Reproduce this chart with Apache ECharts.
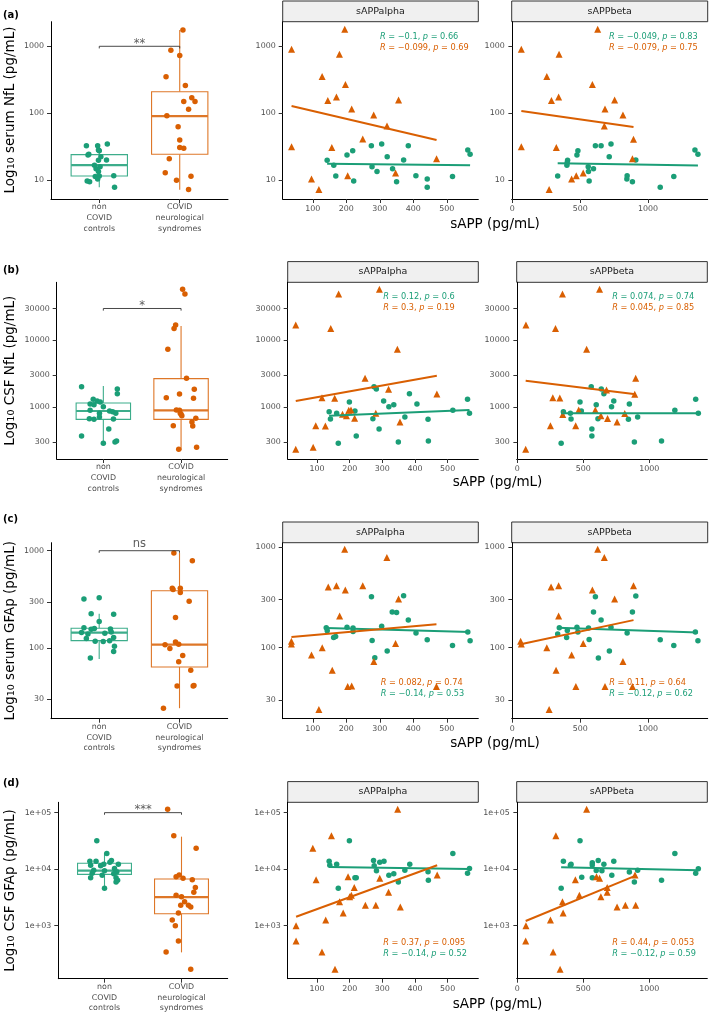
<!DOCTYPE html>
<html><head><meta charset="utf-8">
<script src="https://cdn.jsdelivr.net/npm/echarts@6/dist/echarts.min.js"></script>
<style>html,body{margin:0;padding:0;background:#fff}#c{width:709px;height:1013px}</style>
</head><body><div id="c"></div><script>
// ---------------- data ----------------
const GROUP_LABELS = ['non\nCOVID\ncontrols', 'COVID\nneurological\nsyndromes'];
const FACETS = ['sAPPalpha', 'sAPPbeta'];
const PANEL_TAGS = ['(a)', '(b)', '(c)', '(d)'];
const Y_TITLES = ['serum NfL', 'CSF NfL', 'serum GFAp', 'CSF GFAp'];
const X_TITLE = 'sAPP (pg/mL)';
const SIG_TEXT = ['**', '*', 'ns', '***'];
const SIG_Y = [1000, 30000, 1000, 100000];

const Y_TICKS_A = [10, 100, 1000];
const Y_LABELS_A = ['10', '100', '1000'];
const Y_TICKS_B = [300, 1000, 3000, 10000, 30000];
const Y_LABELS_B = ['300', '1000', '3000', '10000', '30000'];
const Y_TICKS_C = [30, 100, 300, 1000];
const Y_LABELS_C = ['30', '100', '300', '1000'];
const Y_TICKS_D = [1000, 10000, 100000];
const Y_LABELS_D = ['1e+03', '1e+04', '1e+05'];
const X_TICKS_ALPHA = [100, 200, 300, 400, 500];
const X_TICKS_BETA = [0, 500, 1000];

// box stats [min, Q1, median, Q3, max] per group
const BOX_A = [[7.9, 11.6, 16.8, 24.2, 34.8], [7.2, 24.5, 91, 210, 1750]];
const BOX_B = [[292, 653, 871, 1148, 2065], [224, 653, 891, 2660, 16400]];
const BOX_C = [[77.8, 120, 145, 161, 226], [24.4, 64.4, 109, 389, 949]];
const BOX_D = [[4570, 8100, 9400, 12700, 19600], [337, 1630, 3210, 6700, 37600]];

// jittered box points [x position, value]
const JIT_G_A = [[1.10,34.8],[0.84,32.9],[0.98,32.9],[0.99,28.4],[1.00,27.7],[0.87,24.5],[0.86,23.9],[1.02,22.5],[1.09,20.1],[0.99,19.9],[0.94,16.8],[1.01,16],[0.96,14.9],[0.99,13.5],[1.18,11.7],[1.00,11.6],[0.95,11.4],[0.98,10.5],[0.85,9.8],[0.88,9.55],[1.19,7.9]];
const JIT_O_A = [[2.04,1750],[1.89,870],[2.0,730],[1.83,350],[2.07,260],[2.15,170],[2.05,150],[2.19,150],[2.11,115],[1.84,92],[1.98,63],[2.0,40],[2.0,31],[2.05,30],[1.87,21],[1.82,13],[2.14,11.5],[1.96,10],[2.11,7.3]];
const JIT_G_B = [[0.72,2018],[1.18,1862],[1.18,1585],[0.87,1303],[0.92,1230],[0.96,1189],[0.83,1109],[0.88,1084],[1.0,1012],[0.83,891],[1.08,871],[1.12,851],[1.16,803],[0.95,803],[0.95,708],[0.82,668],[1.13,661],[0.88,653],[1.07,468],[0.72,367],[1.0,285],[1.15,299],[1.17,309]];
const JIT_O_B = [[2.02,58200],[2.05,49500],[1.93,17000],[1.91,15100],[1.83,7330],[2.07,2690],[2.17,1840],[1.98,1570],[1.81,1380],[2.16,1350],[1.94,900],[1.98,890],[2.0,776],[2.01,740],[2.19,676],[1.99,803],[2.14,596],[1.90,525],[2.15,520],[1.97,232],[2.20,248]];
const JIT_G_C = [[0.81,321],[1.0,329],[0.90,226],[1.18,224],[1.0,188],[0.81,163],[0.94,160],[1.14,158],[0.9,157],[0.86,140],[1.07,143],[1.15,147],[0.78,145],[1.18,129],[0.84,126],[1.13,120],[0.95,118],[1.05,117.5],[1.19,105],[1.18,92.7],[0.89,79.6]];
const JIT_O_C = [[1.93,949],[2.16,789],[1.91,413],[2.01,413],[1.92,401],[2.01,374],[2.12,304],[1.95,207],[1.82,109],[1.95,116],[1.99,110],[1.88,100],[2.04,84.6],[1.99,73],[2.14,59.6],[1.97,41.3],[2.17,41.3],[2.18,41.6],[1.80,24.4]];
const JIT_G_D = [[0.90,31900],[1.03,19000],[1.09,14300],[0.81,13800],[0.89,13800],[1.07,13200],[0.99,12200],[1.18,12200],[0.82,11700],[0.95,11500],[1.13,10300],[0.86,9530],[1.0,9400],[1.16,9040],[0.84,8440],[1.12,8300],[0.97,7780],[0.82,7080],[1.15,7080],[1.17,6340],[1.15,5930],[1.0,4580]];
const JIT_O_D = [[1.82,114600],[1.90,39200],[2.19,23400],[1.93,7360],[1.97,7890],[2.02,6890],[2.14,6520],[2.18,4760],[2.16,3890],[1.93,3470],[2.0,3260],[2.04,2660],[1.99,2290],[2.09,2290],[2.12,2140],[1.96,1680],[1.88,1260],[1.92,1000],[1.96,536],[1.80,342],[2.12,169]];

// scatter [sAPP, value]
const ALPHA_G_A = [[142.7,19.9],[162.5,16.8],[168.5,11.6],[202,23.9],[219,27.7],[222,9.8],[274.7,32.9],[276.7,16],[291.6,13.5],[305.5,34.8],[322,22.5],[338,14.9],[350,9.55],[371,20.1],[385,32.9],[407.7,11.7],[441.5,10.5],[441.5,7.9],[517,11.4],[562.6,28.4],[569.5,24.5]];
const ALPHA_O_A = [[36.4,903],[195.3,1795],[179.4,760],[127.8,353],[197.3,268],[170.5,175],[144.7,155],[356,158],[216,116],[281.7,94.4],[321.4,64.7],[249,41.4],[36.4,31.8],[156.6,30.8],[469.4,21],[347,12.8],[204,11.7],[96,10.5],[118,7.3]];
const BETA_G_A = [[407,19.9],[402,16.8],[334,11.6],[476,23.9],[483,27.7],[566,9.8],[612,32.9],[559,16],[561,13.5],[727,34.8],[714,22.5],[598,14.9],[885,9.55],[910,20.1],[654,32.9],[846,11.7],[844,10.5],[1090,7.9],[1190,11.4],[1346,28.4],[1368,24.5],[404,18.3]];
const BETA_O_A = [[629,1795],[66,903],[344,760],[254,353],[590,268],[341,175],[288,155],[754,158],[683,116],[815,94],[678,64.7],[893,41],[66,31.8],[324,30.8],[885,21],[522,12.8],[471,11.7],[437,10.5],[271,7.3]];

const ALPHA_G_B = [[137,851],[141,661],[160,803],[165,285],[199,1189],[216,871],[220,367],[271,668],[274.5,2018],[281.6,1862],[290,468],[304,1230],[320,1012],[335,1084],[349,299],[369,708],[383,1585],[406,1109],[440,653],[441,309],[516,891],[561,1303],[567,803]];
const ALPHA_O_B = [[34.7,17000],[166,49500],[291,58200],[142,15100],[346,7330],[247,2690],[319,1840],[467,1570],[115,1380],[154,1350],[197,890],[204,900],[178,776],[190,740],[215,676],[280,803],[96,525],[125.5,520],[354,596],[34.7,232],[88,248]];
const BETA_G_B = [[349,851],[407,661],[402,803],[332,285],[475,1189],[485,871],[565,367],[611,668],[560,2018],[636,1862],[565,468],[731,1230],[714,1012],[598,1084],[887,299],[912,708],[656,1585],[849,1109],[842,653],[1093,309],[1194,891],[1352,1303],[1372,803]];
const BETA_O_B = [[65,17000],[342,49500],[623,58200],[289,15100],[525,7330],[897,2690],[676,1800],[890,1550],[269,1380],[322,1360],[591,900],[633,740],[344,770],[684,670],[814,800],[251,525],[442,525],[756,596],[63,232],[465,900]];

const ALPHA_G_C = [[140,158],[143,147],[162,126],[168,129],[202,160],[220,157],[220,145],[275,321],[277,118],[285,79.6],[305.5,163],[322,92.7],[337,226],[350,224],[371,329],[385,188],[408,140],[441.5,120],[517,105],[562.6,143],[569.5,117.5]];
const ALPHA_O_C = [[195,949],[321,789],[146,401],[170.5,413],[197,374],[249,413],[356,304],[180,207],[36,116],[36,109],[128,100],[96,84.6],[347,110],[282,73],[158,59.6],[204,41.3],[216,41.6],[469,41.3],[118,24.4]];
const BETA_G_C = [[346,158],[334,137],[405,148],[400,126],[476,160],[483,143],[612,321],[566,121],[634,79],[727,160],[715,93],[598,226],[654,188],[910,326],[885,226],[561,157],[846,140],[1090,120],[1190,105],[1349,143],[1368,117]];
const BETA_O_C = [[629,949],[678,789],[285,401],[341,413],[590,374],[893,413],[754,304],[341,207],[61,116],[66,109],[254,100],[437,84.6],[522,110],[815,73],[322,59.6],[468,41.3],[683,41.3],[885,41.3],[271,24.4]];

const ALPHA_G_D = [[137,13800],[139,11700],[160,12200],[165,4580],[199,31900],[216,7080],[220,7080],[273,14300],[275,11500],[282,9400],[292,13200],[305,13800],[320,7780],[335,8300],[349,5930],[369,9530],[384,12200],[440,9040],[441,6340],[516,19000],[561,8440],[567,10300]];
const ALPHA_O_D = [[347,114600],[144,39200],[87,23400],[97,6520],[195,7360],[214,4760],[292,6890],[319,3890],[468,7890],[169,2660],[200,3260],[205,3470],[248,2290],[280,2290],[355,2140],[180,1680],[126.5,1260],[35.7,1000],[35.7,536],[115,342],[155,169]];
const BETA_G_D = [[349,13800],[407,12200],[402,11700],[332,4580],[475,31900],[488,7200],[568,13000],[568,11800],[613,14300],[656,12200],[598,9500],[641,9400],[731,13800],[716,7800],[568,7080],[849,8900],[887,5930],[912,9530],[1093,6340],[1194,19000],[1352,8440],[1372,10200]];
const BETA_O_D = [[525,114600],[292,39200],[440,6520],[600,7360],[623,6890],[681,4760],[892,7890],[681,3890],[470,3470],[633,3260],[342,2660],[756,2140],[819,2290],[897,2290],[347,1680],[251,1260],[65,1000],[63,536],[271,342],[324,169]];

// fitted regression line end points [sAPP, value]
const FIT_ALPHA_G = [[[142.7,17.7],[569.5,16.8]], [[137,741],[567,902]], [[140,157],[569.5,143]], [[137,10900],[567,10070]]];
const FIT_ALPHA_O = [[[36.4,128.6],[469.4,40]], [[34.7,1230],[467,2950]], [[36,128],[469,171]], [[35.7,1440],[468,11700]]];
const FIT_BETA_G = [[[334,17.9],[1368,16.6]], [[332,803],[1372,803]], [[334,158],[1368,142]], [[332,10770],[1372,9530]]];
const FIT_BETA_O = [[[66,108],[893,62.5]], [[63,2483],[897,1549]], [[61,108],[893,188]], [[63,1210],[897,7670]]];

// correlation labels [group, text]
const R_ALPHA = [
  [['g','{i|R} = −0.1, {i|p} = 0.66'], ['o','{i|R} = −0.099, {i|p} = 0.69']],
  [['g','{i|R} = 0.12, {i|p} = 0.6'], ['o','{i|R} = 0.3, {i|p} = 0.19']],
  [['o','{i|R} = 0.082, {i|p} = 0.74'], ['g','{i|R} = −0.14, {i|p} = 0.53']],
  [['o','{i|R} = 0.37, {i|p} = 0.095'], ['g','{i|R} = −0.14, {i|p} = 0.52']]
];
const R_BETA = [
  [['g','{i|R} = −0.049, {i|p} = 0.83'], ['o','{i|R} = −0.079, {i|p} = 0.75']],
  [['g','{i|R} = 0.074, {i|p} = 0.74'], ['o','{i|R} = 0.045, {i|p} = 0.85']],
  [['o','{i|R} = 0.11, {i|p} = 0.64'], ['g','{i|R} = −0.12, {i|p} = 0.62']],
  [['o','{i|R} = 0.44, {i|p} = 0.053'], ['g','{i|R} = −0.12, {i|p} = 0.59']]
];

// ---------------- layout / style ----------------
const GREEN = '#1B9E77', ORANGE = '#D95F02';
const BOX_GREEN = '#3DAD8B', BOX_ORANGE = '#DE7728';
const FONT = 'DejaVu Sans';
const LAYOUT = [
  {box:[51,21.7,177,177.3], alpha:[282.7,21.7,195.6,177.3], beta:[511.7,21.7,196,177.3], boxY:[0.721,3.367], scY:[0.721,3.367], tagY:15, titleY:110, sappX:495, sappY:224, rAX:380, rBX:609, rY:[36.7,47.7], sigDist:-4},
  {box:[56.7,282.3,171,176.7], alpha:[287.7,282.3,190.6,176.7], beta:[516.7,282.3,190.6,176.7], boxY:[2.22,4.87], scY:[2.22,4.87], tagY:270, titleY:370.7, sappX:497.5, sappY:482.5, rAX:383.3, rBX:612.3, rY:[296.7,307.7], sigDist:-4},
  {box:[51,542.7,176.7,176], alpha:[282.7,542.7,195.6,176], beta:[511.7,542.7,196,176], boxY:[1.28,3.082], scY:[1.295,3.043], tagY:519, titleY:630.7, sappX:495, sappY:743, rAX:380.7, rBX:609.3, rY:[683.3,694.3], sigDist:0},
  {box:[58.3,802.3,169.4,176.4], alpha:[287.7,802.3,190.6,176.4], beta:[516.7,802.3,190.6,176.4], boxY:[2.062,5.183], scY:[2.062,5.183], tagY:783, titleY:890.5, sappX:497.5, sappY:1004, rAX:383.3, rBX:612.3, rY:[943.3,954.3], sigDist:-4}
];
const ROWS = [
  {box:BOX_A, jg:JIT_G_A, jo:JIT_O_A, ag:ALPHA_G_A, ao:ALPHA_O_A, bg:BETA_G_A, bo:BETA_O_A, yt:Y_TICKS_A, yl:Y_LABELS_A},
  {box:BOX_B, jg:JIT_G_B, jo:JIT_O_B, ag:ALPHA_G_B, ao:ALPHA_O_B, bg:BETA_G_B, bo:BETA_O_B, yt:Y_TICKS_B, yl:Y_LABELS_B},
  {box:BOX_C, jg:JIT_G_C, jo:JIT_O_C, ag:ALPHA_G_C, ao:ALPHA_O_C, bg:BETA_G_C, bo:BETA_O_C, yt:Y_TICKS_C, yl:Y_LABELS_C},
  {box:BOX_D, jg:JIT_G_D, jo:JIT_O_D, ag:ALPHA_G_D, ao:ALPHA_O_D, bg:BETA_G_D, bo:BETA_O_D, yt:Y_TICKS_D, yl:Y_LABELS_D}
];
const X_RANGE = {box:[0.4, 2.6], alpha:[10, 594], beta:[-5, 1440]};
const BOX_HALF = 0.35;

const lg = v => Math.log10(v);
const toLog = arr => arr.map(p => [p[0], lg(p[1])]);
const yFmt = (ticks, labels) => v => {
  const i = ticks.findIndex(t => Math.abs(lg(t) - v) < 1e-6);
  return i < 0 ? '' : labels[i];
};

function renderBox(params, api) {
  const x = api.value(0);
  const c = api.visual('color');
  const pMin = api.coord([x, api.value(1)]);
  const pQ1 = api.coord([x - BOX_HALF, api.value(2)]);
  const pMedL = api.coord([x - BOX_HALF, api.value(3)]);
  const pMedR = api.coord([x + BOX_HALF, api.value(3)]);
  const pQ3 = api.coord([x + BOX_HALF, api.value(4)]);
  const pMax = api.coord([x, api.value(5)]);
  const cx = pMin[0];
  const ls = {stroke: c, lineWidth: 1.1, fill: null};
  return {type: 'group', children: [
    {type: 'line', shape: {x1: cx, y1: pMin[1], x2: cx, y2: pQ1[1]}, style: ls},
    {type: 'line', shape: {x1: cx, y1: pQ3[1], x2: cx, y2: pMax[1]}, style: ls},
    {type: 'rect', shape: {x: pQ1[0], y: pQ3[1], width: pQ3[0] - pQ1[0], height: pQ1[1] - pQ3[1]}, style: {fill: '#fff', stroke: c, lineWidth: 1.1}},
    {type: 'line', shape: {x1: pMedL[0], y1: pMedL[1], x2: pMedR[0], y2: pMedR[1]}, style: {stroke: c, lineWidth: 2.2}}
  ]};
}

const grids = [], xAxes = [], yAxes = [], series = [], graphics = [];
const axisLineStyle = {show: true, lineStyle: {color: '#000', width: 1}};
const tickStyle = {color: '#333', width: 1};
const ptStyle = c => ({color: c, opacity: 1});

LAYOUT.forEach((L, r) => {
  const D = ROWS[r];
  const panels = [['box', L.box, L.boxY], ['alpha', L.alpha, L.scY], ['beta', L.beta, L.scY]];
  panels.forEach(([kind, g, yr], k) => {
    const gi = r * 3 + k;
    grids.push({left: g[0], top: g[1], width: g[2], height: g[3], containLabel: false, outerBoundsMode: 'none'});
    const xr = X_RANGE[kind];
    const xt = kind === 'box' ? [1, 2] : (kind === 'alpha' ? X_TICKS_ALPHA : X_TICKS_BETA);
    xAxes.push({
      gridIndex: gi, type: 'value', min: xr[0], max: xr[1],
      axisLine: axisLineStyle, splitLine: {show: false},
      axisTick: {show: true, length: 4, lineStyle: tickStyle, customValues: xt},
      axisLabel: {
        customValues: xt, color: '#4D4D4D', fontSize: 7.9, fontFamily: FONT,
        margin: kind === 'box' ? 3 : 5, lineHeight: 10.7,
        formatter: kind === 'box' ? (v => GROUP_LABELS[Math.round(v) - 1]) : (v => String(v))
      }
    });
    const ytl = D.yt.map(lg);
    yAxes.push({
      gridIndex: gi, type: 'value', min: yr[0], max: yr[1],
      axisLine: axisLineStyle, splitLine: {show: false},
      axisTick: {show: true, length: 4, lineStyle: tickStyle, customValues: ytl},
      axisLabel: {customValues: ytl, color: '#4D4D4D', fontSize: 7.9, fontFamily: FONT, margin: 7, formatter: yFmt(D.yt, D.yl)}
    });
  });

  // ----- box panel -----
  const bi = r * 3;
  series.push({
    type: 'custom', xAxisIndex: bi, yAxisIndex: bi, renderItem: renderBox, silent: true,
    encode: {x: 0, y: [1, 2, 3, 4, 5]},
    data: [
      {value: [1].concat(D.box[0].map(lg)), itemStyle: {color: BOX_GREEN}},
      {value: [2].concat(D.box[1].map(lg)), itemStyle: {color: BOX_ORANGE}}
    ]
  });
  const sy = lg(SIG_Y[r]);
  const tip = 0.012 * (L.boxY[1] - L.boxY[0]);
  series.push({
    type: 'line', xAxisIndex: bi, yAxisIndex: bi, silent: true, symbol: 'none',
    lineStyle: {color: '#333', width: 0.9},
    data: [[1, sy - tip], [1, sy], [2, sy], [2, sy - tip]]
  });
  series.push({
    type: 'scatter', xAxisIndex: bi, yAxisIndex: bi, silent: true, symbolSize: 1,
    itemStyle: {color: 'rgba(0,0,0,0)'},
    label: {show: true, position: 'top', distance: L.sigDist, formatter: SIG_TEXT[r], color: '#333', fontSize: 11.5, fontFamily: FONT},
    data: [[1.5, sy]]
  });
  series.push({type: 'scatter', xAxisIndex: bi, yAxisIndex: bi, silent: true, symbol: 'circle', symbolSize: 5.5, itemStyle: ptStyle(GREEN), data: toLog(D.jg)});
  series.push({type: 'scatter', xAxisIndex: bi, yAxisIndex: bi, silent: true, symbol: 'circle', symbolSize: 5.5, itemStyle: ptStyle(ORANGE), data: toLog(D.jo)});

  // ----- scatter panels -----
  [[D.ag, D.ao, FIT_ALPHA_G[r], FIT_ALPHA_O[r]], [D.bg, D.bo, FIT_BETA_G[r], FIT_BETA_O[r]]].forEach((P, k) => {
    const gi = r * 3 + 1 + k;
    series.push({type: 'scatter', xAxisIndex: gi, yAxisIndex: gi, silent: true, symbol: 'circle', symbolSize: 5.5, itemStyle: ptStyle(GREEN), data: toLog(P[0])});
    series.push({type: 'scatter', xAxisIndex: gi, yAxisIndex: gi, silent: true, symbol: 'triangle', symbolSize: 7, itemStyle: ptStyle(ORANGE), data: toLog(P[1])});
    series.push({type: 'line', xAxisIndex: gi, yAxisIndex: gi, silent: true, symbol: 'none', lineStyle: {color: GREEN, width: 2}, data: toLog(P[2])});
    series.push({type: 'line', xAxisIndex: gi, yAxisIndex: gi, silent: true, symbol: 'none', lineStyle: {color: ORANGE, width: 2}, data: toLog(P[3])});
  });

  // ----- decorations -----
  graphics.push({type: 'text', x: 3, y: L.tagY, style: {text: PANEL_TAGS[r], fontSize: 10, fontWeight: 'bold', fontFamily: FONT, fill: '#000', verticalAlign: 'middle'}});
  graphics.push({type: 'text', x: 10, y: L.titleY, rotation: Math.PI / 2, style: {
    text: 'Log{s|10} ' + Y_TITLES[r] + ' (pg/mL)', fontSize: 13.5, fontFamily: FONT, fill: '#000',
    align: 'center', verticalAlign: 'middle',
    rich: {s: {fontSize: 9.5, fontFamily: FONT, fill: '#000', lineHeight: 6, verticalAlign: 'bottom'}}
  }});
  graphics.push({type: 'text', x: L.sappX, y: L.sappY, style: {text: X_TITLE, fontSize: 13.5, fontFamily: FONT, fill: '#000', align: 'center', verticalAlign: 'middle'}});
  [L.alpha, L.beta].forEach((g, k) => {
    graphics.push({type: 'rect', shape: {x: g[0], y: g[1] - 20.7, width: g[2], height: 20.7}, style: {fill: '#F0F0F0', stroke: '#333', lineWidth: 1}});
    graphics.push({type: 'text', x: g[0] + g[2] / 2, y: g[1] - 10.3, style: {text: FACETS[k], fontSize: 9.5, fontFamily: FONT, fill: '#1A1A1A', align: 'center', verticalAlign: 'middle'}});
  });
  [[R_ALPHA[r], L.rAX], [R_BETA[r], L.rBX]].forEach(([labels, x]) => {
    labels.forEach(([grp, txt], j) => {
      const col = grp === 'g' ? GREEN : ORANGE;
      graphics.push({type: 'text', x: x, y: L.rY[j], style: {
        text: txt, fontSize: 8.2, fontFamily: FONT, fill: col, align: 'left', verticalAlign: 'middle',
        rich: {i: {fontSize: 8.2, fontFamily: FONT, fontStyle: 'italic', fill: col}}
      }});
    });
  });
});

const chart = echarts.init(document.getElementById('c'), null, {renderer: 'canvas'});
chart.setOption({
  animation: false,
  backgroundColor: '#fff',
  grid: grids, xAxis: xAxes, yAxis: yAxes, series: series, graphic: graphics
});
</script></body></html>
